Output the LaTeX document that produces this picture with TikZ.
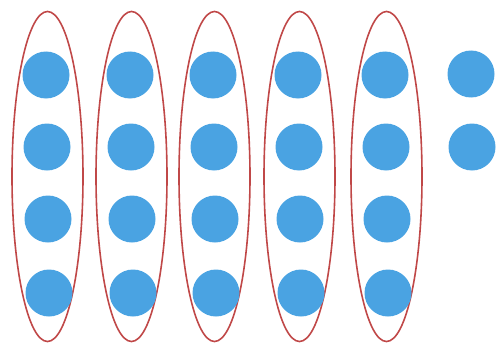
\documentclass[tikz,border=0pt]{standalone}
\usetikzlibrary{shapes.geometric}
\definecolor{dotblue}{RGB}{74,163,226}
\definecolor{ringred}{RGB}{192,72,72}
\begin{document}
\begin{tikzpicture}[x=1pt,y=1pt,
  dot/.style={circle,fill=dotblue,draw=none,minimum size=47pt,inner sep=0pt},
  ring/.style={ellipse,draw=ringred,line width=1.6pt,minimum width=71pt,minimum height=330pt,inner sep=0pt}]
\useasboundingbox (0,0) rectangle (497,-345);
\foreach \i/\x in {1/47,2/131,3/214,4/299,5/386}{
  \node[ring] (r\i) at (\x+0.5,-176.5) {};
  \node[dot] (d\i a) at (\x-1,-75) {};
  \node[dot] (d\i b) at (\x,-147) {};
  \node[dot] (d\i c) at (\x+1,-219) {};
  \node[dot] (d\i d) at (\x+2,-293) {};
}
\node[dot] (d6a) at (471,-74) {};
\node[dot] (d6b) at (472,-147) {};
\end{tikzpicture}
\end{document}
